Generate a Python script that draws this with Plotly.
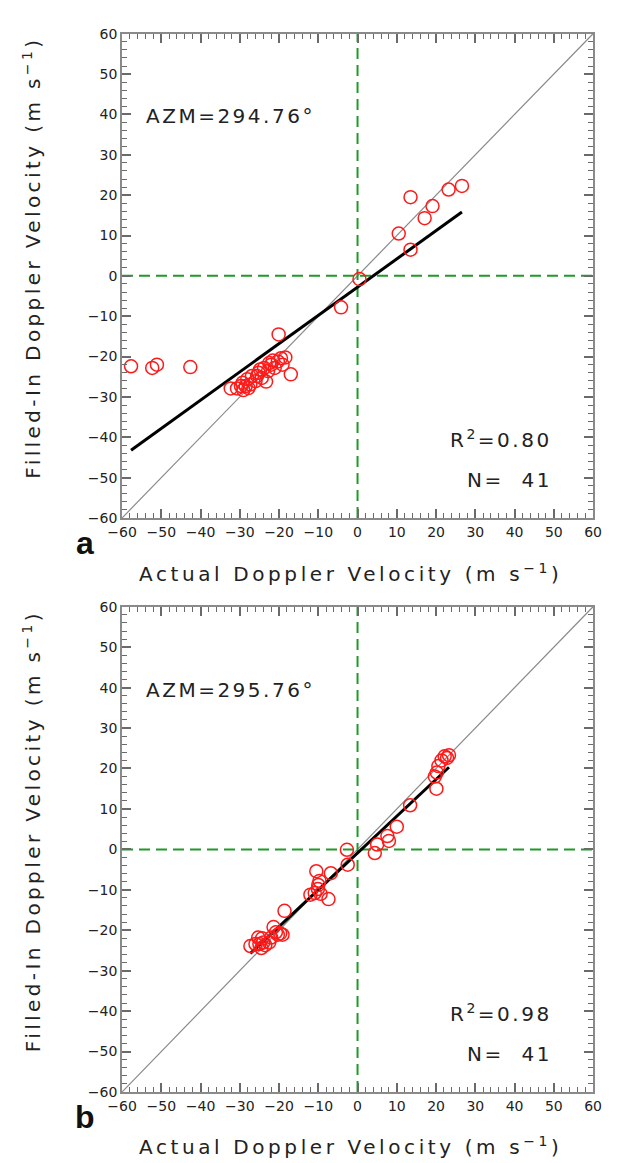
import plotly.graph_objects as go

# ---------------- data ----------------
a_actual = [-57.7, -52.3, -51.1, -42.6, -20.1, -17.0, -23.3, -32.3, -30.7, -29.1,
            -29.3, -28.1, -27.3, -26.9, -26.0, -25.2, -24.4, -23.8, -22.8, -22.0,
            -21.1, -20.3, -19.5, -18.4, -19.1, -28.5, -29.7, -25.6, -22.5, -27.8,
            -24.8, -21.6, -4.2, 0.5, 10.5, 13.5, 13.5, 17.1, 19.1, 23.2, 26.6]
a_filled = [-22.4, -22.8, -22.0, -22.6, -14.5, -24.4, -26.2, -27.9, -27.9, -28.3,
            -26.5, -25.6, -26.9, -24.8, -26.1, -24.0, -25.3, -22.8, -23.6, -22.0,
            -22.8, -21.2, -20.4, -20.2, -22.0, -27.3, -27.3, -24.8, -21.6, -27.8,
            -23.2, -21.0, -7.8, -0.8, 10.5, 19.5, 6.5, 14.3, 17.3, 21.4, 22.3]

b_actual = [-27.3, -25.3, -25.0, -24.5, -23.5, -22.5, -21.4, -20.3, -19.7, -19.1,
            -18.6, -26.0, -24.3, -24.0, -22.0, -20.8,
            -10.5, -9.7, -10.1, -10.9, -12.0, -9.4, -7.4, -6.8, -2.7, -2.5, -10.0,
            4.4, 5.0, 8.0, 7.6, 10.0, 13.4, 20.1, 19.7, 20.6, 21.4, 22.2, 23.3, 20.2, 22.8]
b_filled = [-23.9, -21.8, -23.4, -24.4, -23.7, -23.0, -19.2, -21.1, -20.8, -21.1,
            -15.2, -23.4, -22.0, -23.0, -21.8, -20.5,
            -5.4, -7.8, -9.8, -10.8, -11.2, -11.0, -12.3, -5.9, -0.1, -3.8, -8.8,
            -0.9, 1.2, 2.1, 3.3, 5.6, 10.9, 15.0, 18.0, 20.6, 22.0, 23.0, 23.3, 19.0, 22.6]

# regression line (slope, intercept) as drawn in the reference
fit_a = (0.70, -2.8)
fit_b = (0.91, -0.9)

azm_labels = ["AZM=294.76°", "AZM=295.76°"]
r2_labels = ["0.80", "0.98"]
n_labels = ["41", "41"]
panel_letters = ["a", "b"]

axis_range = [-60, 60]
major_step = 10
minor_step = 2

x_title = "Actual Doppler Velocity (m s<sup>−1</sup>)"
y_title = "Filled-In Doppler Velocity (m s<sup>−1</sup>)"

# ---------------- figure ----------------
W, H = 620, 1163
panels = [
    dict(x=a_actual, y=a_filled, fit=fit_a, top=18, bottom=509, xt=567),
    dict(x=b_actual, y=b_filled, fit=fit_b, top=599, bottom=1091, xt=1148),
]
box_left, box_right = 103, 593

fig = go.Figure()
GREEN = "#1f9a2a"
RED = "#ff1a1a"
GREY = "#8a8a8a"
TICK = "#6a6a6a"
FONT = "DejaVu Sans"

def spaced(txt, px):
    return f'<span style="letter-spacing:{px}px">{txt}</span>'

annotations = []
for i, p in enumerate(panels):
    xa, ya = ("x", "y") if i == 0 else ("x2", "y2")
    fig.add_trace(go.Scatter(x=axis_range, y=axis_range, mode="lines",
                             line=dict(color=GREY, width=1.2), xaxis=xa, yaxis=ya,
                             hoverinfo="skip", showlegend=False))
    fig.add_trace(go.Scatter(x=[0, 0], y=axis_range, mode="lines",
                             line=dict(color=GREEN, width=2, dash="11px,6px"),
                             xaxis=xa, yaxis=ya, showlegend=False))
    fig.add_trace(go.Scatter(x=axis_range, y=[0, 0], mode="lines",
                             line=dict(color=GREEN, width=2, dash="11px,6px"),
                             xaxis=xa, yaxis=ya, showlegend=False))
    xmin, xmax = min(p["x"]), max(p["x"])
    s, c = p["fit"]
    fig.add_trace(go.Scatter(x=[xmin, xmax], y=[s * xmin + c, s * xmax + c], mode="lines",
                             line=dict(color="black", width=3), xaxis=xa, yaxis=ya,
                             showlegend=False))
    fig.add_trace(go.Scatter(x=p["x"], y=p["y"], mode="markers",
                             marker=dict(symbol="circle-open", size=13, color=RED,
                                         line=dict(color=RED, width=1.5)),
                             xaxis=xa, yaxis=ya, showlegend=False))

    tfont = dict(family=FONT, size=20, color="#222")
    annotations.append(dict(x=-54.5, y=39.5, xref=xa, yref=ya, xanchor="left", yanchor="middle",
                            text=spaced(azm_labels[i], 2.5), showarrow=False, font=tfont))
    annotations.append(dict(x=50, y=-40.5, xref=xa, yref=ya, xanchor="right", yanchor="middle",
                            text=spaced("R<sup>2</sup>=" + r2_labels[i], 2.5), showarrow=False, font=tfont))
    annotations.append(dict(x=50, y=-50.5, xref=xa, yref=ya, xanchor="right", yanchor="middle",
                            text=spaced("N=\u00a0\u00a0" + n_labels[i], 2.5), showarrow=False, font=tfont))

    afont = dict(family=FONT, size=20, color="#222")
    annotations.append(dict(x=((box_left + box_right) / 2 - 7) / W, y=1 - (p["xt"] - 2) / H,
                            xref="paper", yref="paper", xanchor="center", yanchor="middle",
                            text=spaced(x_title, 3.6), showarrow=False, font=afont))
    annotations.append(dict(x=9 / W, y=1 - ((p["top"] + p["bottom"]) / 2 - 18) / H,
                            xref="paper", yref="paper", xanchor="center", yanchor="middle",
                            textangle=-90, text=spaced(y_title, 3.4), showarrow=False, font=afont))
    annotations.append(dict(x=64 / W, y=1 - (p["bottom"] + 25) / H, xref="paper", yref="paper",
                            xanchor="center", yanchor="middle", text="<b>" + panel_letters[i] + "</b>",
                            showarrow=False,
                            font=dict(family="Liberation Sans", size=32, color="#111")))

def axis(domain):
    return dict(
        domain=domain, range=axis_range, dtick=major_step,
        ticks="inside", ticklen=9, tickwidth=1.6, tickcolor=TICK,
        showline=True, linecolor=GREY, linewidth=1.6, mirror="ticks",
        showgrid=False, zeroline=False, layer="above traces",
        minor=dict(dtick=minor_step, ticks="inside", ticklen=5,
                   tickwidth=1.3, tickcolor=TICK, showgrid=False),
        tickfont=dict(family=FONT, size=14, color="#222"),
    )

xdom = [box_left / W, box_right / W]
fig.update_layout(
    width=W, height=H,
    margin=dict(l=0, r=0, t=0, b=0),
    paper_bgcolor="white", plot_bgcolor="white",
    showlegend=False,
    xaxis=dict(axis(xdom), anchor="y"),
    yaxis=dict(axis([1 - panels[0]["bottom"] / H, 1 - panels[0]["top"] / H]), anchor="x"),
    xaxis2=dict(axis(xdom), anchor="y2"),
    yaxis2=dict(axis([1 - panels[1]["bottom"] / H, 1 - panels[1]["top"] / H]), anchor="x2"),
    annotations=annotations,
)

fig.write_html("out.html")
